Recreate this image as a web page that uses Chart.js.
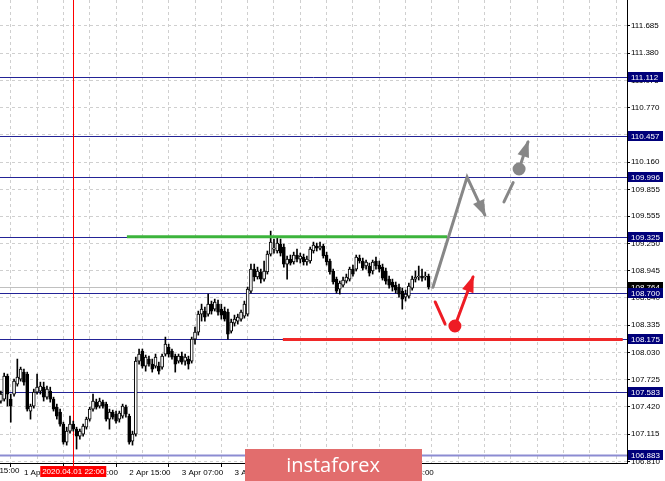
<!DOCTYPE html>
<html>
<head>
<meta charset="utf-8">
<script src="https://cdn.jsdelivr.net/npm/chart.js@4.4.1/dist/chart.umd.min.js"></script>
<style>
  html, body { margin: 0; padding: 0; background: #fff; }
  canvas { display: block; }
</style>
</head>
<body>
<canvas id="chart" width="665" height="481"></canvas>
<script>
// H1 candles, bar 0 = 2020.04.01 00:00
const opens = [
  107.486, 107.508, 107.765, 107.508, 107.564, 107.676, 107.732, 107.810, 107.788, 107.374,
  107.430, 107.586, 107.598, 107.642, 107.530, 107.598, 107.508, 107.418, 107.362, 107.228,
  107.027, 107.150, 107.228, 107.172, 107.094, 107.116, 107.194, 107.284, 107.396, 107.474,
  107.430, 107.474, 107.452, 107.284, 107.362, 107.340, 107.284, 107.318, 107.418, 107.318,
  107.038, 107.116, 107.933, 108.045, 107.877, 107.956, 107.900, 107.877, 107.877, 107.866,
  108.012, 108.090, 108.045, 107.989, 107.933, 107.989, 107.933, 107.956, 107.933, 108.179,
  108.258, 108.459, 108.493, 108.459, 108.571, 108.515, 108.571, 108.515, 108.493, 108.482,
  108.269, 108.358, 108.381, 108.403, 108.437, 108.459, 108.717, 108.963, 108.874, 108.930,
  108.851, 108.930, 109.131, 109.187, 109.165, 109.243, 109.209, 109.019, 109.075, 109.042,
  109.120, 109.075, 109.097, 109.042, 109.053, 109.165, 109.221, 109.198, 109.221, 109.120,
  109.053, 108.941, 108.851, 108.739, 108.784, 108.829, 108.851, 108.963, 108.963, 109.086,
  109.053, 108.997, 108.997, 108.941, 109.053, 109.008, 108.985, 108.941, 108.851, 108.818,
  108.784, 108.762, 108.717, 108.650, 108.661, 108.750, 108.851, 108.874, 108.885, 108.874,
  108.885
];
const highs = [
  107.598, 107.799, 107.788, 107.564, 107.732, 107.956, 107.866, 107.844, 107.810, 107.452,
  107.620, 107.788, 107.698, 107.698, 107.653, 107.642, 107.530, 107.452, 107.396, 107.250,
  107.194, 107.318, 107.262, 107.194, 107.172, 107.228, 107.306, 107.418, 107.564, 107.508,
  107.519, 107.497, 107.474, 107.396, 107.385, 107.374, 107.374, 107.452, 107.441, 107.340,
  107.150, 107.978, 108.068, 108.068, 108.001, 107.989, 107.956, 108.012, 107.922, 108.012,
  108.202, 108.123, 108.068, 108.012, 108.012, 108.034, 108.012, 107.989, 108.202, 108.314,
  108.493, 108.571, 108.538, 108.683, 108.605, 108.627, 108.616, 108.571, 108.538, 108.515,
  108.403, 108.448, 108.459, 108.504, 108.605, 108.762, 109.019, 109.019, 108.985, 108.963,
  109.053, 109.165, 109.388, 109.299, 109.321, 109.299, 109.243, 109.109, 109.120, 109.153,
  109.187, 109.142, 109.131, 109.109, 109.209, 109.265, 109.254, 109.265, 109.243, 109.153,
  109.075, 108.963, 108.874, 108.829, 108.874, 108.907, 108.985, 109.008, 109.120, 109.120,
  109.086, 109.064, 109.030, 109.064, 109.097, 109.053, 109.019, 108.974, 108.885, 108.851,
  108.818, 108.795, 108.750, 108.728, 108.807, 108.885, 108.941, 108.997, 108.963, 108.930,
  108.907
];
const lows = [
  107.463, 107.486, 107.430, 107.250, 107.542, 107.653, 107.709, 107.665, 107.374, 107.284,
  107.407, 107.564, 107.564, 107.486, 107.508, 107.474, 107.374, 107.284, 107.206, 107.004,
  106.993, 107.127, 107.150, 106.949, 107.060, 107.094, 107.172, 107.262, 107.374, 107.396,
  107.407, 107.407, 107.262, 107.172, 107.284, 107.239, 107.250, 107.295, 107.306, 107.004,
  106.993, 107.094, 107.900, 107.855, 107.821, 107.877, 107.810, 107.855, 107.788, 107.844,
  107.989, 107.978, 107.956, 107.810, 107.911, 107.900, 107.888, 107.844, 107.911, 108.123,
  108.224, 108.381, 108.381, 108.437, 108.459, 108.493, 108.448, 108.403, 108.381, 108.179,
  108.247, 108.325, 108.347, 108.381, 108.414, 108.437, 108.695, 108.829, 108.851, 108.807,
  108.829, 108.907, 109.109, 109.142, 109.142, 109.109, 108.985, 108.851, 109.008, 109.019,
  109.042, 109.030, 109.008, 109.008, 109.030, 109.142, 109.165, 109.176, 109.086, 109.008,
  108.907, 108.795, 108.695, 108.683, 108.762, 108.807, 108.829, 108.885, 108.941, 109.030,
  108.952, 108.963, 108.885, 108.907, 108.963, 108.930, 108.840, 108.795, 108.750, 108.717,
  108.695, 108.650, 108.515, 108.605, 108.638, 108.728, 108.818, 108.840, 108.829, 108.840,
  108.739
];
const closes = [
  107.564, 107.765, 107.564, 107.430, 107.709, 107.754, 107.844, 107.698, 107.396, 107.430,
  107.586, 107.642, 107.653, 107.530, 107.620, 107.508, 107.396, 107.318, 107.228, 107.027,
  107.150, 107.228, 107.172, 107.094, 107.150, 107.206, 107.284, 107.396, 107.486, 107.418,
  107.486, 107.430, 107.284, 107.362, 107.306, 107.262, 107.351, 107.430, 107.340, 107.027,
  107.116, 107.933, 108.012, 107.877, 107.978, 107.900, 107.844, 107.978, 107.821, 107.989,
  108.123, 108.012, 107.978, 107.900, 107.989, 107.922, 107.978, 107.900, 108.179, 108.258,
  108.459, 108.515, 108.426, 108.571, 108.493, 108.594, 108.482, 108.448, 108.403, 108.235,
  108.370, 108.403, 108.426, 108.482, 108.571, 108.739, 108.963, 108.874, 108.941, 108.851,
  108.941, 109.131, 109.265, 109.198, 109.254, 109.142, 109.019, 109.075, 109.030, 109.120,
  109.075, 109.109, 109.042, 109.075, 109.187, 109.232, 109.198, 109.221, 109.109, 109.042,
  108.930, 108.818, 108.717, 108.807, 108.840, 108.874, 108.963, 108.907, 109.097, 109.053,
  108.974, 109.042, 108.918, 109.042, 108.997, 108.963, 108.862, 108.829, 108.784, 108.762,
  108.728, 108.683, 108.627, 108.683, 108.773, 108.851, 108.874, 108.885, 108.862, 108.885,
  108.764
];

// price axis labels
const priceTicks = [111.685, 111.380, 111.075, 110.770, 110.465, 110.160, 109.855, 109.555,
  109.250, 108.945, 108.640, 108.335, 108.030, 107.725, 107.420, 107.115, 106.810];

// time axis labels (bar index -> text)
const timeBars = [-9, 7, 23, 39, 55, 71, 87, 103, 119];
const timeLabels = ['31 Mar 15:00', '1 Apr 07:00', '1 Apr 23:00', '2 Apr 15:00', '3 Apr 07:00',
  '3 Apr 23:00', '6 Apr 15:00', '7 Apr 07:00', '7 Apr 23:00'];

// horizontal levels with price labels
const levels = [111.112, 110.457, 109.996, 109.325, 108.700, 108.175, 107.583, 106.883];
const bidPrice = 108.764;
const markerBar = 22;
const markerText = '2020.04.01 22:00';

// drawn objects, in [bar, price]
const greenLine = [[38.3, 109.325], [135.6, 109.325]];
const redLine = [[85.7, 108.175], [189.0, 108.175]];
const grayPath = [[131.3, 108.759], [141.7, 109.993], [147.1, 109.568]];
const grayDash = [[152.9, 109.715], [155.7, 109.930]];
const grayUp = [[157.5, 110.083], [160.2, 110.385]];
const redDash = [[132.0, 108.595], [135.0, 108.349]];
const redUp = [[138.0, 108.326], [143.5, 108.874]];

const X_MIN = -0.27, X_MAX = 190.3;
const Y_MIN = 106.793, Y_MAX = 111.974;
const FONT = "'Liberation Sans', Arial, sans-serif";
const FSIZE = 8;

const bars = closes.map((c, i) => i);
const pts = arr => arr.map(p => ({x: p[0], y: p[1]}));

function lineSet(arr, color, extra) {
  return Object.assign({
    type: 'line', data: pts(arr), borderColor: color, backgroundColor: color,
    borderWidth: 3, pointRadius: 0, order: 0, borderCapStyle: 'round'
  }, extra || {});
}

const overlay = {
  id: 'overlay',
  beforeDatasetsDraw(chart) {
    const {ctx, chartArea: a, scales: {x, y}} = chart;
    ctx.save();
    // bid line
    let py = Math.round(y.getPixelForValue(bidPrice)) + 0.5;
    ctx.strokeStyle = '#c0c0c0'; ctx.lineWidth = 1;
    ctx.beginPath(); ctx.moveTo(a.left, py); ctx.lineTo(a.right, py); ctx.stroke();
    // levels
    levels.forEach((v, i) => {
      const p = Math.round(y.getPixelForValue(v)) + 0.5;
      const last = i === levels.length - 1;
      ctx.strokeStyle = last ? '#8c8cd2' : '#232396';
      ctx.lineWidth = last ? 2 : 1;
      ctx.beginPath(); ctx.moveTo(a.left, p); ctx.lineTo(a.right, p); ctx.stroke();
    });
    // vertical marker
    const mx = Math.round(x.getPixelForValue(markerBar)) + 0.5;
    ctx.strokeStyle = '#ff0000'; ctx.lineWidth = 1;
    ctx.beginPath(); ctx.moveTo(mx, a.top); ctx.lineTo(mx, a.bottom + 4); ctx.stroke();
    ctx.restore();
  },
  afterDatasetsDraw(chart) {
    const {ctx, scales: {x, y}} = chart;
    chart.data.datasets.forEach(ds => {
      if (!ds.arrow) return;
      const d = ds.data, n = d.length;
      const x1 = x.getPixelForValue(d[n - 2].x), y1 = y.getPixelForValue(d[n - 2].y);
      const x2 = x.getPixelForValue(d[n - 1].x), y2 = y.getPixelForValue(d[n - 1].y);
      const ang = Math.atan2(y2 - y1, x2 - x1);
      const L = 15, W = 6;
      ctx.save();
      ctx.fillStyle = ds.borderColor;
      ctx.translate(x2, y2); ctx.rotate(ang);
      ctx.beginPath(); ctx.moveTo(2, 0); ctx.lineTo(-L, -W); ctx.lineTo(-L, W); ctx.closePath();
      ctx.fill();
      ctx.restore();
    });
  },
  afterDraw(chart) {
    const {ctx, chartArea: a, scales: {x, y}} = chart;
    ctx.save();
    ctx.font = FSIZE + 'px ' + FONT;
    ctx.textBaseline = 'middle';
    // price boxes
    const box = (v, bg) => {
      const p = Math.round(y.getPixelForValue(v));
      ctx.fillStyle = bg;
      ctx.fillRect(a.right + 1, p - 5, 35, 10);
      ctx.fillStyle = '#fff';
      ctx.textAlign = 'left';
      ctx.fillText(v.toFixed(3), a.right + 4, p + 0.5);
    };
    box(bidPrice, '#000');
    levels.forEach(v => box(v, '#00007a'));
    // clipped first time label
    ctx.fillStyle = '#000'; ctx.textAlign = 'left';
    ctx.beginPath(); ctx.rect(0, a.bottom, a.right, 20); ctx.clip();
    ctx.fillText(timeLabels[0], x.getPixelForValue(timeBars[0]) + 1, a.bottom + 8);
    ctx.restore();
    ctx.save();
    // marker label
    const mx = x.getPixelForValue(markerBar);
    ctx.font = FSIZE + 'px ' + FONT;
    ctx.fillStyle = '#ff0000';
    ctx.fillRect(mx - 33, a.bottom + 3, 66, 11);
    ctx.fillStyle = '#fff'; ctx.textAlign = 'center'; ctx.textBaseline = 'middle';
    ctx.fillText(markerText, mx, a.bottom + 8.5);
    // watermark
    ctx.fillStyle = '#e26d6d';
    ctx.fillRect(245, 449, 177, 32);
    ctx.fillStyle = '#fff';
    ctx.font = "20px 'Open Sans', sans-serif";
    ctx.fillText('instaforex', 333, 466);
    ctx.restore();
  }
};

new Chart(document.getElementById('chart'), {
  type: 'bar',
  data: {
    datasets: [
      {
        // candle bodies
        data: bars.map(i => ({x: i, y: [opens[i], closes[i]]})),
        backgroundColor: c => closes[c.dataIndex] >= opens[c.dataIndex] ? '#ffffff' : '#000000',
        borderColor: '#000', borderWidth: 1, borderSkipped: false,
        barThickness: 3, grouped: false, minBarLength: 1, order: 1
      },
      {
        // wicks
        data: bars.map(i => ({x: i, y: [lows[i], highs[i]]})),
        backgroundColor: '#000', barThickness: 1, grouped: false, order: 2
      },
      lineSet(greenLine, '#3cb43c', {borderCapStyle: 'butt'}),
      lineSet(redLine, '#f02828', {borderCapStyle: 'butt'}),
      lineSet(grayPath, '#878787', {arrow: true, borderJoinStyle: 'miter'}),
      lineSet(grayDash, '#878787'),
      lineSet(grayUp, '#878787', {arrow: true, pointRadius: c => c.dataIndex === 0 ? 5 : 0}),
      lineSet(redDash, '#ee1c24'),
      lineSet(redUp, '#ee1c24', {arrow: true, pointRadius: c => c.dataIndex === 0 ? 5 : 0})
    ]
  },
  options: {
    responsive: false,
    animation: false,
    devicePixelRatio: 1,
    layout: {padding: 0, autoPadding: false},
    plugins: {legend: {display: false}, tooltip: {enabled: false}},
    scales: {
      x: {
        type: 'linear', position: 'bottom', min: X_MIN, max: X_MAX, offset: false,
        afterBuildTicks: s => {
          const t = [];
          for (let b = -1; b <= X_MAX; b += 8) if (b >= X_MIN) t.push({value: b});
          s.ticks = t;
        },
        afterFit: s => { s.height = 18; s.paddingLeft = 0; s.paddingRight = 0; },
        grid: {
          color: '#cfcfcf', lineWidth: 1, tickLength: 4,
          tickColor: c => timeBars.includes(c.tick && c.tick.value) ? '#000' : 'rgba(0,0,0,0)'
        },
        border: {display: true, color: '#000', width: 1, dash: [3, 3]},
        ticks: {
          autoSkip: false, maxRotation: 0, align: 'start', padding: 1,
          color: '#000', font: {family: FONT, size: FSIZE},
          callback: v => { const k = timeBars.indexOf(v); return k >= 0 ? timeLabels[k] : ''; }
        }
      },
      y: {
        type: 'linear', position: 'right', min: Y_MIN, max: Y_MAX,
        afterBuildTicks: s => { s.ticks = priceTicks.map(v => ({value: v})); },
        afterFit: s => { s.width = 38; s.paddingTop = 0; s.paddingBottom = 0; },
        grid: {color: '#cfcfcf', lineWidth: 1, tickLength: 3, tickColor: '#000'},
        border: {display: true, color: '#000', width: 1, dash: [3, 3]},
        ticks: {
          padding: 1, color: '#000', font: {family: FONT, size: FSIZE},
          callback: v => v.toFixed(3)
        }
      }
    }
  },
  plugins: [overlay]
});
</script>
</body>
</html>
